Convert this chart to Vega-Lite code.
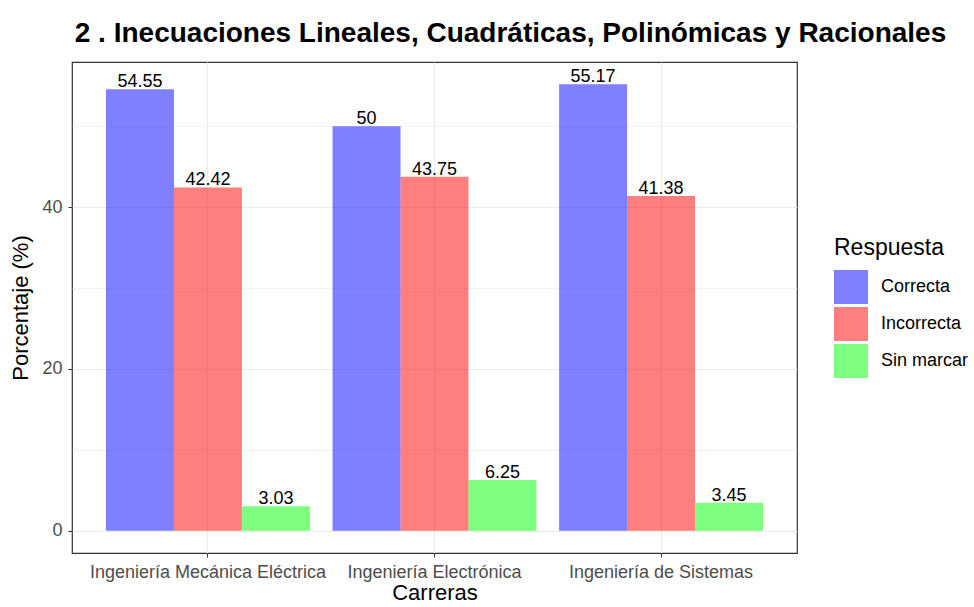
{
  "$schema": "https://vega.github.io/schema/vega-lite/v6.json",
  "width": 725,
  "height": 491,
  "autosize": {"type": "none"},
  "padding": {"left": 72, "top": 62, "right": 177, "bottom": 54},
  "background": "white",
  "config": {
    "font": "Liberation Sans",
    "view": {"stroke": "#333333", "strokeWidth": 1.2}
  },
  "title": {
    "text": "2 . Inecuaciones Lineales, Cuadráticas, Polinómicas y Racionales",
    "fontSize": 28,
    "fontWeight": "bold",
    "color": "black",
    "anchor": "middle",
    "dx": 76,
    "offset": 14
  },
  "data": {
    "values": [
      {"carrera": "Ingeniería Mecánica Eléctrica", "respuesta": "Correcta", "pct": 54.55},
      {"carrera": "Ingeniería Mecánica Eléctrica", "respuesta": "Incorrecta", "pct": 42.42},
      {"carrera": "Ingeniería Mecánica Eléctrica", "respuesta": "Sin marcar", "pct": 3.03},
      {"carrera": "Ingeniería Electrónica", "respuesta": "Correcta", "pct": 50},
      {"carrera": "Ingeniería Electrónica", "respuesta": "Incorrecta", "pct": 43.75},
      {"carrera": "Ingeniería Electrónica", "respuesta": "Sin marcar", "pct": 6.25},
      {"carrera": "Ingeniería de Sistemas", "respuesta": "Correcta", "pct": 55.17},
      {"carrera": "Ingeniería de Sistemas", "respuesta": "Incorrecta", "pct": 41.38},
      {"carrera": "Ingeniería de Sistemas", "respuesta": "Sin marcar", "pct": 3.45}
    ]
  },
  "encoding": {
    "x": {
      "field": "carrera",
      "type": "nominal",
      "sort": null,
      "scale": {"paddingInner": 0.1, "paddingOuter": 0.15},
      "axis": {
        "title": "Carreras",
        "titleFontSize": 22,
        "titleFontWeight": "normal",
        "titleColor": "black",
        "titlePadding": 1,
        "labelAngle": 0,
        "labelFontSize": 18,
        "labelLimit": 0,
        "labelColor": "#4d4d4d",
        "labelPadding": 6,
        "tickSize": 4,
        "tickColor": "#333333",
        "domain": false,
        "grid": true,
        "gridColor": "#ebebeb",
        "bandPosition": 0.5
      }
    },
    "xOffset": {"field": "respuesta", "type": "nominal", "scale": {"paddingInner": 0, "paddingOuter": 0}},
    "y": {
      "field": "pct",
      "type": "quantitative",
      "scale": {"domain": [-2.76, 57.93], "nice": false, "zero": false},
      "axis": {
        "title": "Porcentaje (%)",
        "titleFontSize": 22,
        "titleFontWeight": "normal",
        "titleColor": "black",
        "titlePadding": 9,
        "values": [0, 10, 20, 30, 40, 50],
        "labelExpr": "datum.value % 20 == 0 ? datum.label : ''",
        "labelFontSize": 18,
        "labelColor": "#4d4d4d",
        "labelPadding": 6,
        "tickSize": 4,
        "tickColor": "#333333",
        "tickOpacity": {"condition": {"test": "datum.value % 20 == 0", "value": 1}, "value": 0},
        "domain": false,
        "grid": true,
        "gridColor": "#ebebeb",
        "gridWidth": {"condition": {"test": "datum.value % 20 == 0", "value": 1.1}, "value": 0.6}
      }
    }
  },
  "layer": [
    {
      "mark": {"type": "bar", "opacity": 0.5},
      "encoding": {
        "color": {
          "field": "respuesta",
          "type": "nominal",
          "scale": {"domain": ["Correcta", "Incorrecta", "Sin marcar"], "range": ["#0000ff", "#ff0000", "#00ff00"]},
          "legend": {
            "title": "Respuesta",
            "titleFontSize": 23,
            "titleFontWeight": "normal",
            "titleColor": "black",
            "titlePadding": 10,
            "labelFontSize": 18,
            "labelColor": "black",
            "labelOffset": 13,
            "symbolType": "square",
            "symbolSize": 1156,
            "symbolStrokeWidth": 0,
            "symbolOpacity": 0.5,
            "rowPadding": 3,
            "orient": "none",
            "legendX": 762,
            "legendY": 175
          }
        }
      }
    },
    {
      "mark": {"type": "text", "baseline": "alphabetic", "dy": -2, "fontSize": 18, "color": "black"},
      "encoding": {
        "text": {"field": "pct", "type": "quantitative", "format": ".4~f"}
      }
    }
  ]
}
